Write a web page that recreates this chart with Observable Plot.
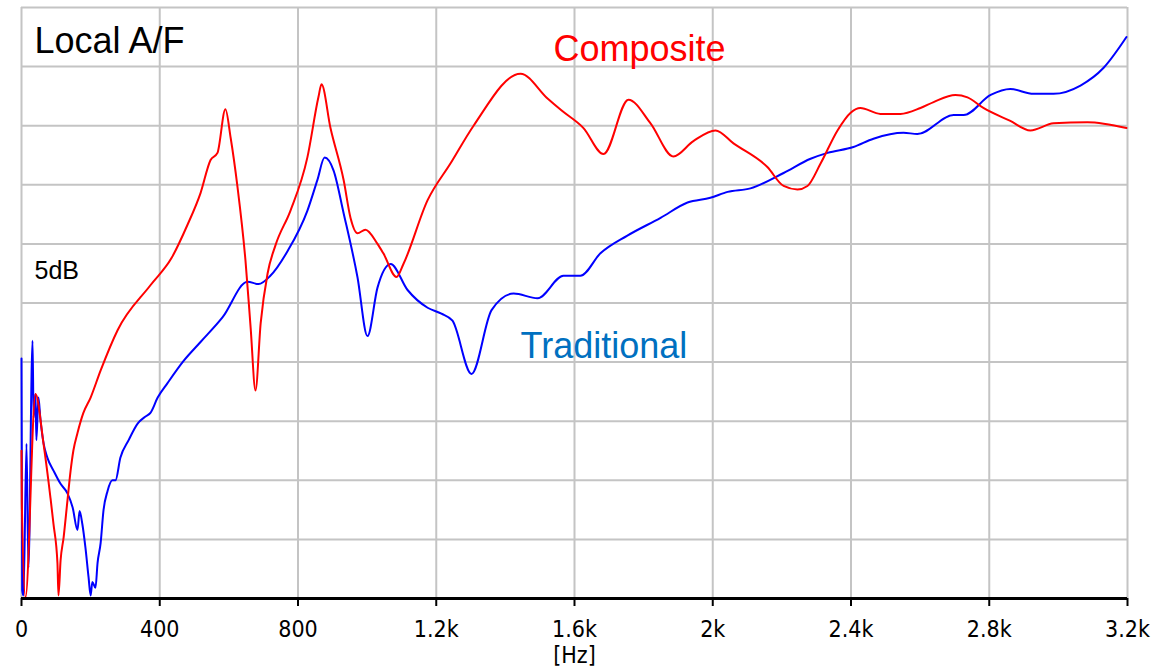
<!DOCTYPE html>
<html>
<head>
<meta charset="utf-8">
<script src="https://cdn.jsdelivr.net/npm/d3@7"></script>
<script src="https://cdn.jsdelivr.net/npm/@observablehq/plot@0.6"></script>
<style>
  html, body { margin: 0; padding: 0; background: #fff; }
  #chart svg { display: block; }
</style>
</head>
<body>
<div id="chart"></div>
<script>
// Frequency axis ticks
const xTicks = [0, 400, 800, 1200, 1600, 2000, 2400, 2800, 3200];
const xTickLabels = ["0", "400", "800", "1.2k", "1.6k", "2k", "2.4k", "2.8k", "3.2k"];
// Level gridlines (5 dB per division)
const yGrid = [0, 5, 10, 15, 20, 25, 30, 35, 40, 45, 50];

// Composite (red): frequency [Hz], level [dB]
const compositeFreq = [0, 1, 11.6, 40.5, 63.7, 83.9, 92.6, 104, 107, 113, 122, 133, 142, 150, 162, 179, 200, 229, 278,
  373, 434, 480, 518, 547, 567, 590, 605, 625, 648, 663, 677, 692, 712, 735, 778, 827, 859, 868, 894, 932, 952, 972,
  995, 1030, 1047, 1085, 1105, 1175, 1241, 1308, 1444, 1522, 1562, 1626, 1684, 1756, 1820, 1886, 1944, 2008, 2060,
  2158, 2205, 2245, 2274, 2312, 2361, 2399, 2427, 2485, 2543, 2601, 2639, 2702, 2737, 2783, 2861, 2919, 2986, 3084, 3197];
const compositeDb = [12.5, 8.0, 0.1, 17.3, 13.1, 8.5, 6.3, 3.0, 0.25, 3.2, 5.2, 8.3, 10.8, 12.5, 14.0, 15.7, 17.0, 19.3, 22.7,
  26.5, 28.8, 31.6, 34.3, 37.1, 37.7, 41.4, 39.0, 34.8, 28.6, 22.9, 17.6, 23.3, 27.5, 29.9, 32.8, 37.3, 42.4, 43.5, 39.8, 35.4, 32.2, 30.9,
  31.2, 30.0, 29.2, 27.2, 28.3, 33.7, 36.8, 40.0, 44.4, 42.3, 41.3, 39.8, 37.6, 42.2, 40.2, 37.4, 38.7, 39.6, 38.5,
  36.5, 34.9, 34.6, 34.9, 36.8, 39.6, 41.1, 41.5, 41.0, 41.0, 41.5, 42.0, 42.6, 42.4, 41.5, 40.4, 39.6, 40.2, 40.3, 39.8];

// Traditional (blue): frequency [Hz], level [dB]
const traditionalFreq = [0, 2, 5.8, 14.5, 20, 32, 35, 40.5, 43, 49, 55, 64, 75, 93, 113, 133, 148, 162, 168, 176, 185, 194,
  200, 205, 214, 220, 229, 237, 249, 263, 272, 286, 310, 336, 359, 373, 394, 422, 469, 518, 582, 654, 686, 720, 770,
  827, 856, 877, 903, 932, 972, 1001, 1030, 1068, 1117, 1175, 1215, 1247, 1302, 1360, 1424, 1493, 1568, 1617, 1675,
  1753, 1849, 1927, 1993, 2043, 2109, 2205, 2283, 2332, 2407, 2465, 2552, 2592, 2697, 2726, 2804, 2861, 2928, 2986,
  3064, 3131, 3197];
const traditionalDb = [20.3, 0.7, 0.25, 13.1, 2.6, 21.8, 15.3, 17.3, 13.4, 17.0, 15.1, 13.1, 11.9, 10.8, 9.7, 8.9, 7.7, 5.8, 7.4, 6.3, 4.3, 1.8,
  0.25, 1.4, 0.9, 3.0, 4.7, 7.4, 9.1, 10.0, 10.0, 11.9, 13.4, 14.8, 15.4, 15.7, 17.0, 18.2, 20.1, 21.7, 23.8, 26.8, 26.6, 27.3, 29.4,
  32.8, 35.4, 37.3, 36.2, 32.6, 27.2, 22.2, 26.3, 28.3, 26.1, 24.6, 24.1, 23.5, 19.0, 24.4, 25.8, 25.4, 27.3, 27.3, 29.2,
  30.7, 32.2, 33.5, 33.9, 34.4, 34.7, 36.0, 37.2, 37.7, 38.2, 38.9, 39.4, 39.3, 40.9, 40.9, 42.6, 43.1, 42.7, 42.7,
  43.4, 44.9, 47.5];

const composite = compositeFreq.map((f, i) => ({f, db: compositeDb[i]}));
const traditional = traditionalFreq.map((f, i) => ({f, db: traditionalDb[i]}));

const font = "'DejaVu Sans Condensed', 'DejaVu Sans', 'Liberation Sans', sans-serif";
const labelFont = "'Liberation Sans', Arial, sans-serif";

const chart = Plot.plot({
  width: 1176,
  height: 667,
  marginLeft: 21,
  marginRight: 49,
  marginTop: 7,
  marginBottom: 69,
  style: {background: "#fff", fontFamily: font, overflow: "visible"},
  x: {domain: [0, 3200]},
  y: {domain: [0, 50], axis: null},
  marks: [
    Plot.ruleY(yGrid, {stroke: "#c4c4c4", strokeWidth: 2}),
    Plot.ruleX(xTicks, {stroke: "#c4c4c4", strokeWidth: 2}),
    Plot.line(traditional, {x: "f", y: "db", stroke: "#0000ff", strokeWidth: 2, curve: "monotone-x"}),
    Plot.line(composite, {x: "f", y: "db", stroke: "#ff0000", strokeWidth: 2, curve: "monotone-x"}),
    Plot.ruleY([0], {stroke: "#000", strokeWidth: 3}),
    Plot.axisX({
      ticks: xTicks,
      tickFormat: (d) => xTickLabels[xTicks.indexOf(d)],
      tickSize: 8,
      tickPadding: 14,
      fontSize: 23,
      stroke: "#000",
      strokeWidth: 2,
      fill: "#000",
      label: null
    }),
    Plot.text(["[Hz]"], {frameAnchor: "bottom", dy: 64, lineAnchor: "bottom", fontSize: 23, fill: "#000", fontFamily: font}),
    Plot.text(["Local A/F"], {frameAnchor: "top-left", dx: 13, dy: 45, lineAnchor: "bottom", textAnchor: "start", fontSize: 36, fill: "#000", fontFamily: labelFont}),
    Plot.text(["5dB"], {frameAnchor: "top-left", dx: 13, dy: 271, lineAnchor: "bottom", textAnchor: "start", fontSize: 25, fill: "#000", fontFamily: labelFont}),
    Plot.text(["Composite"], {frameAnchor: "top-left", dx: 532, dy: 53, lineAnchor: "bottom", textAnchor: "start", fontSize: 36, fill: "#ff0000", fontFamily: labelFont}),
    Plot.text(["Traditional"], {frameAnchor: "top-left", dx: 499, dy: 350, lineAnchor: "bottom", textAnchor: "start", fontSize: 36, fill: "#0070c0", fontFamily: labelFont})
  ]
});
document.getElementById("chart").appendChild(chart);
</script>
</body>
</html>
